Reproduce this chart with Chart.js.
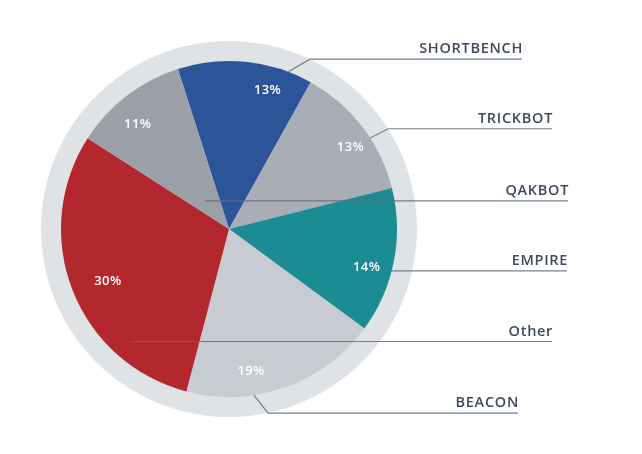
<!DOCTYPE html>
<html lang="en">
<head>
<meta charset="UTF-8">
<title>Malware families</title>
<script src="https://cdn.jsdelivr.net/npm/chart.js@4/dist/chart.umd.min.js"></script>
<style>
  html, body { margin: 0; padding: 0; background: #fff; }
  #wrap { width: 642px; height: 454px; }
</style>
</head>
<body>
<div id="wrap"><canvas id="chart" width="642" height="454"></canvas></div>
<script>
const families = ['SHORTBENCH', 'TRICKBOT', 'EMPIRE', 'BEACON', 'Other', 'QAKBOT'];
const shares = [13, 13, 14, 19, 30, 11];
const sliceColors = ['#2c5599', '#a9aeb6', '#1b8c94', '#c8ccd2', '#b2282e', '#9a9fa8'];

// where each percent label sits: fraction along the slice, fraction of radius
const pctPlace = [[0.71, 0.857], [0.58, 0.87], [0.585, 0.85], [0.656, 0.857], [0.48, 0.786], [0.41, 0.827]];

// leader lines: start (compass deg, r frac), optional elbow (compass deg, r frac), end x as r frac from centre
const leaders = [
  { from: [20.7, 1.0], elbow: [25.5, 1.12], endX: 1.744 },
  { from: [57.2, 1.0], elbow: [57.8, 1.12], endX: 1.923 },
  { from: [104.4, 1.0], endX: 2.012 },
  { from: [171.5, 1.0], elbow: [168, 1.12], endX: 1.72 },
  { from: [221.2, 0.89], endX: 1.923 },
  { from: [319.4, 0.22], endX: 2.018 }
];

function polar(cx, cy, deg, r) {
  const a = (deg - 90) * Math.PI / 180;
  return [cx + r * Math.cos(a), cy + r * Math.sin(a)];
}

const ringPlugin = {
  id: 'ring',
  beforeDatasetsDraw(chart) {
    const arc = chart.getDatasetMeta(0).data[0];
    if (!arc) return;
    const { x, y, outerRadius } = arc.getProps(['x', 'y', 'outerRadius'], true);
    const ctx = chart.ctx;
    ctx.save();
    ctx.fillStyle = '#e0e3e6';
    ctx.beginPath();
    ctx.arc(x, y, outerRadius * 188 / 168, 0, Math.PI * 2);
    ctx.fill();
    ctx.restore();
  }
};

const calloutPlugin = {
  id: 'callouts',
  afterDatasetsDraw(chart) {
    const meta = chart.getDatasetMeta(0);
    const ctx = chart.ctx;
    ctx.save();
    meta.data.forEach((arc, i) => {
      const p = arc.getProps(['x', 'y', 'startAngle', 'endAngle', 'outerRadius'], true);
      const cx = p.x, cy = p.y, R = p.outerRadius;

      // leader line + family name
      const L = leaders[i];
      const s = polar(cx, cy, L.from[0], R * L.from[1]);
      ctx.strokeStyle = 'rgba(96, 106, 122, 0.85)';
      ctx.lineWidth = 1.2;
      ctx.beginPath();
      ctx.moveTo(s[0], s[1]);
      let lineY = s[1];
      if (L.elbow) {
        const e = polar(cx, cy, L.elbow[0], R * L.elbow[1]);
        ctx.lineTo(e[0], e[1]);
        lineY = e[1];
      }
      const endX = cx + R * L.endX;
      ctx.lineTo(endX, lineY);
      ctx.stroke();

      ctx.fillStyle = '#3e4a5e';
      ctx.font = '600 14.5px "Open Sans", sans-serif';
      ctx.letterSpacing = '0.7px';
      ctx.textAlign = 'right';
      ctx.textBaseline = 'alphabetic';
      ctx.fillText(families[i], endX + 1, lineY - 6);

      // percent label inside slice
      const a = p.startAngle + (p.endAngle - p.startAngle) * pctPlace[i][0];
      const r = R * pctPlace[i][1];
      ctx.fillStyle = '#ffffff';
      ctx.font = '600 13px "Open Sans", sans-serif';
      ctx.letterSpacing = '0.4px';
      ctx.textAlign = 'center';
      ctx.textBaseline = 'middle';
      ctx.fillText(shares[i] + '%', cx + r * Math.cos(a), cy + r * Math.sin(a));
    });
    ctx.restore();
  }
};

new Chart(document.getElementById('chart'), {
  type: 'pie',
  data: {
    labels: families,
    datasets: [{
      data: shares,
      backgroundColor: sliceColors,
      borderWidth: 0
    }]
  },
  options: {
    responsive: false,
    animation: false,
    rotation: -17.7,
    layout: { padding: { left: 61, top: 61, right: 245, bottom: 57 } },
    plugins: {
      legend: { display: false },
      tooltip: { enabled: false }
    }
  },
  plugins: [ringPlugin, calloutPlugin]
});
</script>
</body>
</html>
